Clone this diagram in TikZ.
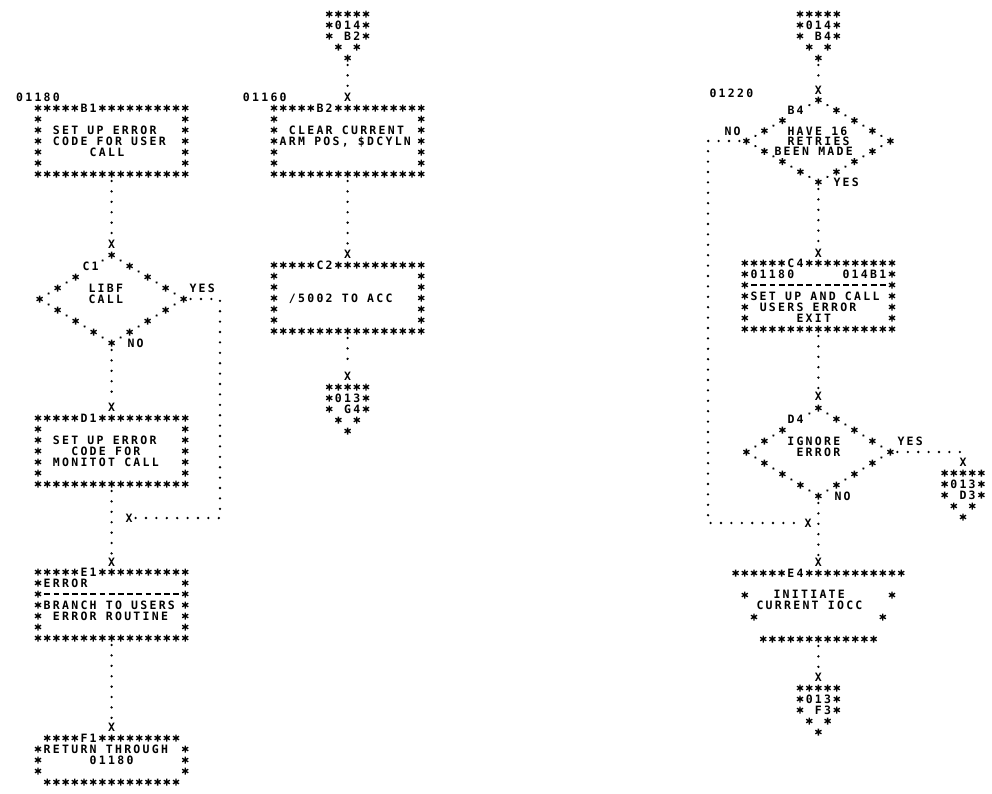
\documentclass[tikz,border=0pt]{standalone}
\usepackage{fontspec}
\usetikzlibrary{shapes.geometric,decorations.markings}
\newfontfamily\prtf{DejaVu Sans Mono}[LetterSpace=19.8]
\newfontfamily\prtn{DejaVu Sans Mono}
\newcommand\astshape{\draw[astl] (0,-3.5)--(0,3.5) (-3.05,-1.75)--(3.05,1.75) (-3.05,1.75)--(3.05,-1.75);}
\newcommand\dmdot{\fill (0,0) circle (1.3);}
\newcommand\dmast{\pgftransformresetnontranslations\astshape}
\tikzset{
  astl/.style={line width=1.35pt, black},
  ast/.pic={\astshape},
  ptext/.style={anchor=base west, inner sep=0pt, outer sep=0pt, font=\prtf\bfseries\fontsize{11.5}{11.5}\selectfont},
  xm/.style={inner sep=0.6pt, font=\prtn\bfseries\fontsize{11.5}{11.5}\selectfont},
  boxn/.style={rectangle, inner sep=0pt, outer sep=0pt, draw=none},
  dnode/.style={diamond, inner sep=0pt, outer sep=0pt, draw=none, minimum width=144, minimum height=88},
  conn/.style={line width=2.6pt, line cap=round, dash pattern=on 0pt off 10.4pt, shorten <=7pt, shorten >=2pt},
  dfull/.style={decorate, decoration={markings,
     mark=at position 0.125 with {\dmdot}, mark=at position 0.25 with {\dmast},
     mark=at position 0.375 with {\dmdot}, mark=at position 0.5 with {\dmast},
     mark=at position 0.625 with {\dmdot}, mark=at position 0.75 with {\dmast},
     mark=at position 0.875 with {\dmdot}}},
  dlab/.style={decorate, decoration={markings,
     mark=at position 0.125 with {\dmdot}, mark=at position 0.5 with {\dmast},
     mark=at position 0.625 with {\dmdot}, mark=at position 0.75 with {\dmast},
     mark=at position 0.875 with {\dmdot}}},
}
\newcommand\starrow[3]{\foreach \k in {1,...,#3}{\pic at ({#1+(\k-1)*9.2},{#2}) {ast};}}
\newcommand\ptxt[4]{\node[ptext] (#1) at ({#2-3.46},{#3+4.2}) {#4};}
\newcommand\dashrow[3]{\foreach \k in {1,...,#3}{\draw[line width=1.3pt] ({#1+(\k-1)*9.2-2.9},{#2}) -- ++(5.8,0);}}
\newcommand\sides[3]{\foreach \k in {1,...,5}{\pic at ({#1},{#3+\k*11}) {ast}; \pic at ({#2},{#3+\k*11}) {ast};}}
% procbox{name}{left}{top}{label}
\newcommand\procbox[4]{%
  \node[boxn, minimum width=147.2, minimum height=66] (#1) at ({#2+73.6},{#3+33}) {};
  \starrow{#2}{#3}{5}
  \ptxt{#1lbl}{#2+46}{#3}{#4}
  \starrow{#2+64.4}{#3}{10}
  \starrow{#2}{#3+66}{17}
  \sides{#2}{#2+147.2}{#3}}
% offp{name}{cx}{ytop}{num}{ref}
\newcommand\offp[5]{%
  \node[boxn, minimum width=36.8, minimum height=44] (#1) at ({#2},{#3+22}) {};
  \starrow{#2-18.4}{#3}{5}
  \pic at ({#2-18.4},{#3+11}) {ast}; \ptxt{#1n}{#2-9.2}{#3+11}{#4} \pic at ({#2+18.4},{#3+11}) {ast};
  \pic at ({#2-18.4},{#3+22}) {ast}; \ptxt{#1r}{#2}{#3+22}{#5} \pic at ({#2+18.4},{#3+22}) {ast};
  \pic at ({#2-9.2},{#3+33}) {ast}; \pic at ({#2+9.2},{#3+33}) {ast};
  \pic at ({#2},{#3+44}) {ast};}
\newcommand\diam[1]{%
  \path[dfull] (#1.north) -- (#1.east);
  \path[dfull] (#1.east) -- (#1.south);
  \path[dfull] (#1.south) -- (#1.west);
  \path[dlab] (#1.north) -- (#1.west);
  \pic at (#1.north) {ast}; \pic at (#1.east) {ast};
  \pic at (#1.south) {ast}; \pic at (#1.west) {ast};}

\begin{document}
\begin{tikzpicture}[x=1pt,y=-1pt]
\fill[white] (0,0) rectangle (992,793);
\useasboundingbox (0,0) rectangle (992,793);

% ================= column 1
\ptxt{l1}{19.6}{97}{01180}
\procbox{b1}{38}{108}{B1}
\ptxt{b1a}{56.4}{130}{SET UP ERROR}
\ptxt{b1b}{56.4}{141}{CODE FOR USER}
\ptxt{b1c}{93.2}{152}{CALL}
\node[xm] (x1) at (111.6,244) {X};
\node[dnode] (c1) at (111.6,299) {};
\diam{c1}
\ptxt{c1lbl}{86}{266}{C1}
\ptxt{c1a}{92}{288}{LIBF}
\ptxt{c1b}{92}{299}{CALL}
\ptxt{c1y}{193}{288}{YES}
\ptxt{c1n}{131}{343}{NO}
\node[xm] (x2) at (111.6,407) {X};
\procbox{d1}{38}{418}{D1}
\ptxt{d1a}{56.4}{440}{SET UP ERROR}
\ptxt{d1b}{74.8}{451}{CODE FOR}
\ptxt{d1c}{56.4}{462}{MONITOT CALL}
\coordinate (c1r) at (220,299);
\node[xm] (xm1) at (129,518) {X};
\node[xm] (x3) at (111.6,562) {X};
\procbox{e1}{38}{572}{E1}
\ptxt{e1a}{47.2}{583}{ERROR}
\dashrow{47.2}{594}{15}
\ptxt{e1c}{47.2}{605}{BRANCH TO USERS}
\ptxt{e1d}{56.4}{616}{ERROR ROUTINE}
\node[xm] (x4) at (111.6,727) {X};
\node[boxn, minimum width=147.2, minimum height=44] (f1) at (111.6,760) {};
\starrow{47.2}{738}{4} \ptxt{f1lbl}{84}{738}{F1} \starrow{102.4}{738}{9}
\foreach \k in {1,2,3}{\pic at (38,{738+\k*11}) {ast}; \pic at (185.2,{738+\k*11}) {ast};}
\starrow{47.2}{782}{15}
\ptxt{f1a}{47.2}{749}{RETURN THROUGH}
\ptxt{f1b}{93.2}{760}{01180}

% ================= column 2
\offp{p1}{347.6}{14}{014}{B2}
\node[xm] (x5) at (347.6,97) {X};
\ptxt{l2}{246.4}{97}{01160}
\procbox{b2}{274}{108}{B2}
\ptxt{b2a}{292.4}{130}{CLEAR CURRENT}
\ptxt{b2b}{283.2}{141}{ARM POS, \$DCYLN}
\node[xm] (x6) at (347.6,254) {X};
\procbox{c2}{274}{265}{C2}
\ptxt{c2a}{292.4}{298}{/5002 TO ACC}
\node[xm] (x7) at (347.6,376) {X};
\offp{p2}{347.6}{387}{013}{G4}

% ================= column 4
\offp{p3}{818.4}{14}{014}{B4}
\node[xm] (x8) at (818.4,90) {X};
\ptxt{l3}{713}{93}{01220}
\node[dnode, minimum height=82] (b4) at (818.4,141) {};
\diam{b4}
\ptxt{b4lbl}{791}{110}{B4}
\ptxt{b4a}{791}{131}{HAVE 16}
\ptxt{b4b}{791}{141}{RETRIES}
\ptxt{b4c}{778}{151}{BEEN MADE}
\ptxt{b4n}{728}{131}{NO}
\ptxt{b4y}{837}{182}{YES}
\coordinate (b4l) at (708,141);
\node[xm] (x9) at (818.4,253) {X};
\procbox{c4}{744.8}{263}{C4}
\ptxt{c4a}{754}{274}{01180}
\ptxt{c4b}{846}{274}{014B1}
\dashrow{754}{285}{15}
\ptxt{c4c}{754}{296}{SET UP AND CALL}
\ptxt{c4d}{763.2}{307}{USERS ERROR}
\ptxt{c4e}{800}{318}{EXIT}
\node[xm] (x10) at (818.4,396) {X};
\node[dnode] (d4) at (818.4,452) {};
\diam{d4}
\ptxt{d4lbl}{791}{419}{D4}
\ptxt{d4a}{790.8}{441}{IGNORE}
\ptxt{d4b}{800}{452}{ERROR}
\ptxt{d4y}{901}{441}{YES}
\ptxt{d4n}{838}{496}{NO}
\node[xm] (x11) at (963,462) {X};
\offp{p4}{963}{473}{013}{D3}
\node[xm] (xm2) at (808,523) {X};
\node[xm] (x12) at (818.4,562) {X};
\node[boxn, minimum width=165.6, minimum height=66] (e4) at (818.4,606) {};
\starrow{735.6}{573}{6} \ptxt{e4lbl}{790.8}{573}{E4} \starrow{809.2}{573}{11}
\pic at (744.8,595) {ast}; \pic at (892,595) {ast};
\pic at (754,617) {ast}; \pic at (882.8,617) {ast};
\starrow{763.2}{639}{13}
\ptxt{e4a}{777}{594}{INITIATE}
\ptxt{e4b}{760}{605}{CURRENT IOCC}
\node[xm] (x13) at (818.4,677) {X};
\offp{p5}{818.4}{688}{013}{F3}

% ================= connectors
\draw[conn] (b1.south) -- (x1.north);
\draw[conn] (c1.south) -- (x2.north);
\draw[conn] (c1.east) -- (c1r) |- (xm1.east);
\draw[conn] (d1.south) -- (x3.north);
\draw[conn] (e1.south) -- (x4.north);
\draw[conn] (p1.south) -- (x5.north);
\draw[conn] (b2.south) -- (x6.north);
\draw[conn] (c2.south) -- (x7.north);
\draw[conn] (p3.south) -- (x8.north);
\draw[conn] (b4.south) -- (x9.north);
\draw[conn] (c4.south) -- (x10.north);
\draw[conn] (d4.east) -| (x11.north);
\draw[conn] (b4.west) -- (b4l) |- (xm2.west);
\draw[conn] (d4.south) -- (x12.north);
\draw[conn] (e4.south) -- (x13.north);
\end{tikzpicture}
\end{document}
